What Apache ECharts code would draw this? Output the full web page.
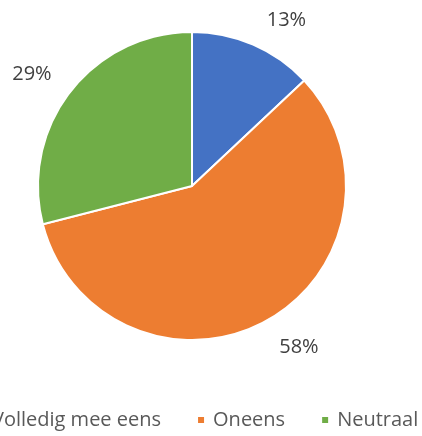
<!DOCTYPE html>
<html>
<head>
<meta charset="utf-8">
<script src="https://cdn.jsdelivr.net/npm/echarts@6/dist/echarts.min.js"></script>
<style>
html, body { margin: 0; padding: 0; background: #fff; }
#chart { width: 422px; height: 436px; }
</style>
</head>
<body>
<div id="chart"></div>
<script>
// antwoorden en aandelen (%)
const categories = ['Volledig mee eens', 'Oneens', 'Neutraal'];
const shares = [13, 58, 29];
const colors = ['#4472C4', '#ED7D31', '#70AD47'];

// kleine verschuiving van de labels (Excel "best fit")
const labelNudge = [[17, 13], [13, -10], [-6, 8]];

let chart = echarts.init(document.getElementById('chart'));

let pieData = categories.map((c, i) => ({
    name: c,
    value: shares[i],
    itemStyle: { color: colors[i] }
}));

let option = {
    animation: false,
    legend: {
        data: categories,
        top: 405,
        left: -30,
        width: 700,
        itemWidth: 8,
        itemHeight: 8,
        itemGap: 35,
        icon: 'rect',
        textStyle: {
            fontFamily: 'Open Sans',
            fontSize: 20,
            color: '#595959',
            padding: [0, 0, 0, 3]
        }
    },
    series: [
        {
            type: 'pie',
            center: [192, 186],
            radius: 154,
            startAngle: 90,
            clockwise: true,
            label: { show: false },
            labelLine: { show: false },
            itemStyle: { borderColor: '#fff', borderWidth: 2 },
            data: pieData
        },
        {
            // alleen voor de percentagelabels
            type: 'pie',
            silent: true,
            center: [192, 186],
            radius: [154, 230],
            startAngle: 90,
            clockwise: true,
            itemStyle: { color: 'rgba(0,0,0,0)' },
            label: {
                show: true,
                position: 'inside',
                formatter: '{c}%',
                fontFamily: 'Open Sans',
                fontSize: 20,
                color: '#404040'
            },
            labelLayout: function (p) {
                return { dx: labelNudge[p.dataIndex][0], dy: labelNudge[p.dataIndex][1] };
            },
            labelLine: { show: false },
            data: pieData.map(d => ({ name: d.name, value: d.value }))
        }
    ]
};

chart.setOption(option);
</script>
</body>
</html>
